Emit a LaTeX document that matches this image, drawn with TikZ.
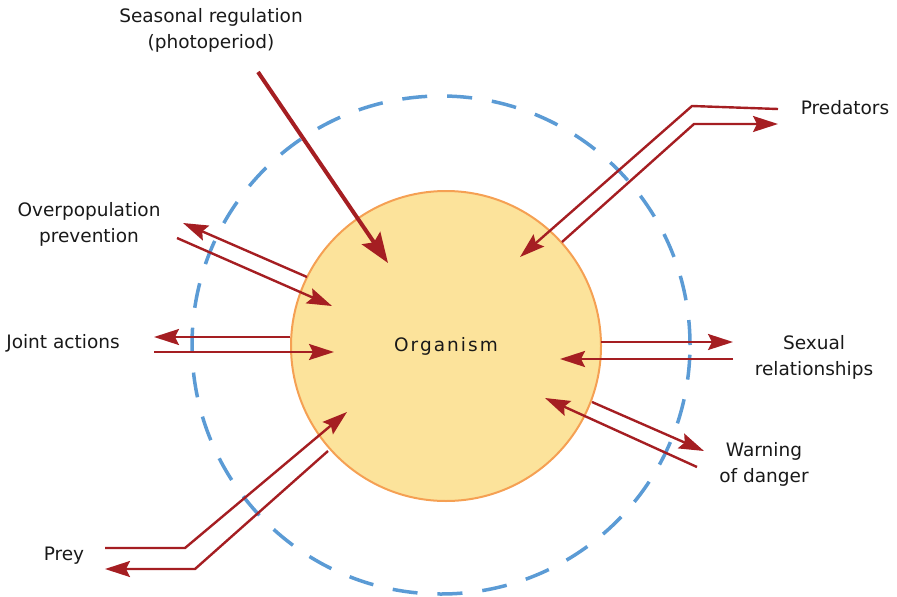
\documentclass[tikz,border=0pt]{standalone}
\usepackage{fontspec}
\setmainfont{DejaVu Sans}
\usetikzlibrary{arrows.meta}

\definecolor{linkred}{HTML}{A51E22}
\definecolor{zoneblue}{HTML}{5B9BD5}
\definecolor{bodyfill}{HTML}{FCE39B}
\definecolor{bodyline}{HTML}{F5A053}

\begin{document}
\begin{tikzpicture}[x=1pt,y=-1pt,
    every node/.style={font=\fontsize{18.5}{26}\selectfont,text=black!90,align=center},
    link/.style={draw=linkred,line width=2.4pt,line join=miter,
      -{Stealth[length=25pt,width=16pt,inset=4pt]}},
    thicklink/.style={draw=linkred,line width=4pt,
      -{Stealth[length=30pt,width=22pt,inset=5pt]}}]

    \useasboundingbox (0,0) rectangle (897,597);

    % outer zone
    \draw[zoneblue,line width=3.5pt,dash pattern=on 25pt off 20pt] (441,345) circle[radius=249pt];

    % organism
    \node (org) [circle,draw=bodyline,line width=2pt,fill=bodyfill,minimum size=310pt]
      at (446,346) {\addfontfeatures{LetterSpace=11}Organism};

    % labels
    \node (season) at (211,30) {Seasonal regulation\\(photoperiod)};
    \node (overpop) at (89,224) {Overpopulation\\prevention};
    \node (joint) at (63,343) {Joint actions};
    \node (prey) at (64,556) {Prey};
    \node (pred) at (845,108) {Predators};
    \node (sexual) at (814,357) {Sexual\\relationships};
    \node (warn) at (764,464) {Warning\\of danger};

    % end points
    \coordinate (season-a) at (258,72);
    \coordinate (season-b) at (388,263);
    \coordinate (overpop-out) at (307,277);
    \coordinate (overpop-tip) at (183,223);
    \coordinate (overpop-in) at (177,238);
    \coordinate (overpop-end) at (332,306);
    \coordinate (joint-out) at (290,337);
    \coordinate (joint-tip) at (154,337);
    \coordinate (joint-in) at (154,352);
    \coordinate (joint-end) at (334,352);
    \coordinate (pred-a) at (778,109);
    \coordinate (pred-b) at (692,106);
    \coordinate (pred-c) at (520,257);
    \coordinate (pred-d) at (562,242);
    \coordinate (pred-e) at (694,124);
    \coordinate (pred-f) at (778,124);
    \coordinate (sex-out) at (601,342);
    \coordinate (sex-tip) at (733,342);
    \coordinate (sex-in) at (733,359);
    \coordinate (sex-end) at (560,359);
    \coordinate (warn-out) at (592,402);
    \coordinate (warn-tip) at (704,451);
    \coordinate (warn-in) at (697,467);
    \coordinate (warn-end) at (545,398);
    \coordinate (prey-a) at (105,548);
    \coordinate (prey-b) at (185,548);
    \coordinate (prey-c) at (347,412);
    \coordinate (prey-d) at (328,451);
    \coordinate (prey-e) at (195,569);
    \coordinate (prey-f) at (105,569);

    % links
    \draw[thicklink] (season-a) -- (season-b);
    \draw[link] (overpop-out) -- (overpop-tip);
    \draw[link] (overpop-in) -- (overpop-end);
    \draw[link] (joint-out) -- (joint-tip);
    \draw[link] (joint-in) -- (joint-end);
    \draw[link] (pred-a) -- (pred-b) -- (pred-c);
    \draw[link] (pred-d) -- (pred-e) -- (pred-f);
    \draw[link] (sex-out) -- (sex-tip);
    \draw[link] (sex-in) -- (sex-end);
    \draw[link] (warn-out) -- (warn-tip);
    \draw[link] (warn-in) -- (warn-end);
    \draw[link] (prey-a) -- (prey-b) -- (prey-c);
    \draw[link] (prey-d) -- (prey-e) -- (prey-f);
\end{tikzpicture}
\end{document}
